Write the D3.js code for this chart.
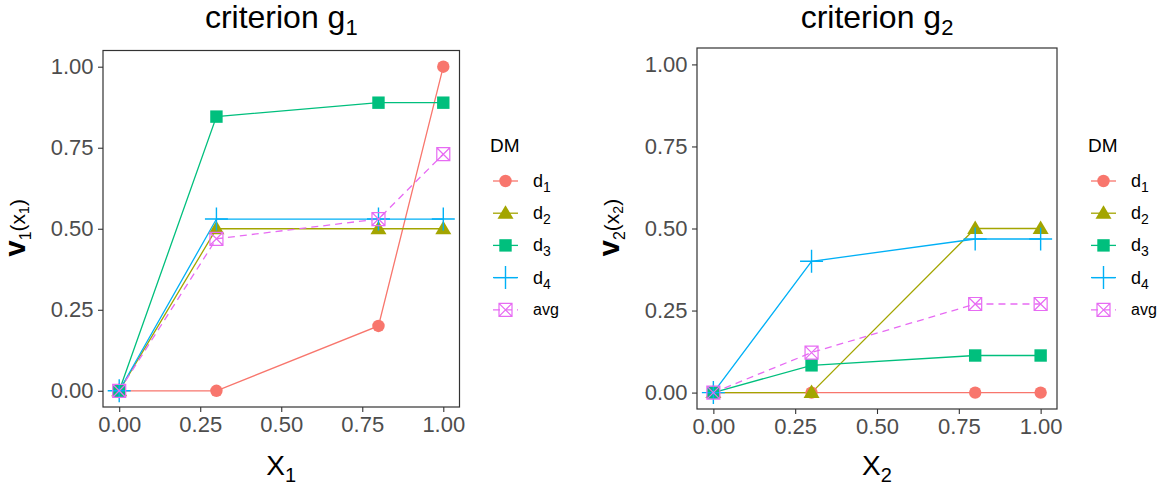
<!DOCTYPE html>
<html>
<head>
<meta charset="utf-8">
<script src="https://cdn.jsdelivr.net/npm/d3@7"></script>
<style>
  body { margin: 0; background: #fff; }
  svg { display: block; }
  text { font-family: "Liberation Sans", Arial, sans-serif; }
</style>
</head>
<body>
<svg id="chart" width="1170" height="494"></svg>
<script>
// x positions shared by both criteria
const xLevels = [0, 0.3, 0.8, 1.0];
const axisTicks = [0, 0.25, 0.5, 0.75, 1];

// decision makers, in legend order
const dmNames = ["d1", "d2", "d3", "d4", "avg"];
const dmColors = ["#F8766D", "#A3A500", "#00BF7D", "#00B0F6", "#E76BF3"];
const dmShapes = ["circle", "triangle", "square", "plus", "boxcross"];

// marginal values, one row per decision maker
const g1Values = [
  [0, 0, 0.2, 1.0],
  [0, 0.5, 0.5, 0.5],
  [0, 0.846, 0.889, 0.889],
  [0, 0.53, 0.53, 0.53],
  [0, 0.469, 0.53, 0.73]
];
const g2Values = [
  [0, 0, 0, 0],
  [0, 0, 0.5, 0.5],
  [0, 0.083, 0.113, 0.113],
  [0, 0.40, 0.468, 0.468],
  [0, 0.122, 0.27, 0.27]
];

const panels = [
  { n: "1", values: g1Values, l: 103, r: 459.5, t: 50.5, b: 407, legendX: 490 },
  { n: "2", values: g2Values, l: 697, r: 1057, t: 48, b: 409, legendX: 1088 }
];

const svg = d3.select("#chart");

function drawMarker(g, shape, color, cx, cy) {
  if (shape === "circle") {
    g.append("circle").attr("cx", cx).attr("cy", cy).attr("r", 6.2).attr("fill", color);
  } else if (shape === "triangle") {
    g.append("path")
      .attr("d", `M${cx},${cy - 8}L${cx + 8},${cy + 5.5}L${cx - 8},${cy + 5.5}Z`)
      .attr("fill", color);
  } else if (shape === "square") {
    g.append("rect").attr("x", cx - 6.2).attr("y", cy - 6.2)
      .attr("width", 12.4).attr("height", 12.4).attr("fill", color);
  } else if (shape === "plus") {
    g.append("path")
      .attr("d", `M${cx - 11.5},${cy}H${cx + 11.5}M${cx},${cy - 11.5}V${cy + 11.5}`)
      .attr("stroke", color).attr("stroke-width", 1.4).attr("fill", "none");
  } else {
    const h = 6.5;
    g.append("path")
      .attr("d", `M${cx - h},${cy - h}H${cx + h}V${cy + h}H${cx - h}Z` +
        `M${cx - h},${cy - h}L${cx + h},${cy + h}M${cx + h},${cy - h}L${cx - h},${cy + h}`)
      .attr("stroke", color).attr("stroke-width", 1.2).attr("fill", "none");
  }
}

function drawPanel(p) {
  const g = svg.append("g");
  const x = d3.scaleLinear().domain([-0.05, 1.05]).range([p.l, p.r]);
  const y = d3.scaleLinear().domain([-0.05, 1.05]).range([p.b, p.t]);
  const cx = (p.l + p.r) / 2;
  const cy = (p.t + p.b) / 2;

  // axes
  const ax = g.append("g").attr("transform", `translate(0,${p.b})`)
    .call(d3.axisBottom(x).tickValues(axisTicks).tickFormat(d3.format(".2f"))
      .tickSize(5).tickPadding(4));
  const ay = g.append("g").attr("transform", `translate(${p.l},0)`)
    .call(d3.axisLeft(y).tickValues(axisTicks).tickFormat(d3.format(".2f"))
      .tickSize(5).tickPadding(4.5));
  [ax, ay].forEach(a => {
    a.select(".domain").remove();
    a.selectAll(".tick line").attr("stroke", "#333").attr("stroke-width", 1.1);
    a.selectAll(".tick text").attr("fill", "#4D4D4D").attr("font-size", 22)
      .attr("font-family", '"Liberation Sans", Arial, sans-serif');
  });

  // lines then points
  const line = d3.line().x(d => x(d[0])).y(d => y(d[1]));
  p.values.forEach((vals, i) => {
    const pts = xLevels.map((xv, k) => [xv, vals[k]]);
    g.append("path").attr("d", line(pts)).attr("fill", "none")
      .attr("stroke", dmColors[i]).attr("stroke-width", 1.3)
      .attr("stroke-dasharray", dmNames[i] === "avg" ? "7,5" : null);
  });
  p.values.forEach((vals, i) => {
    vals.forEach((v, k) => drawMarker(g, dmShapes[i], dmColors[i], x(xLevels[k]), y(v)));
  });

  g.append("rect").attr("x", p.l).attr("y", p.t)
    .attr("width", p.r - p.l).attr("height", p.b - p.t)
    .attr("fill", "none").attr("stroke", "#333").attr("stroke-width", 1.2);

  // title
  const title = g.append("text").attr("x", cx).attr("y", 28)
    .attr("text-anchor", "middle").attr("font-size", 32).attr("fill", "#000");
  title.append("tspan").text("criterion g");
  title.append("tspan").attr("font-size", 22).attr("dy", 7).text(p.n);

  // x axis title
  const xt = g.append("text").attr("x", cx).attr("y", 475)
    .attr("text-anchor", "middle").attr("font-size", 28).attr("fill", "#000");
  xt.append("tspan").text("X");
  xt.append("tspan").attr("font-size", 20).attr("dy", 7).text(p.n);

  // y axis title
  const yt = g.append("text")
    .attr("transform", `translate(${p.l - 78},${cy - 1}) rotate(-90)`)
    .attr("text-anchor", "middle").attr("fill", "#000");
  yt.append("tspan").attr("font-weight", "bold").attr("font-size", 29).text("v");
  yt.append("tspan").attr("font-size", 16).attr("dy", 6).text(p.n);
  yt.append("tspan").attr("font-size", 21).attr("dy", -6).text("(x");
  yt.append("tspan").attr("font-size", 14).attr("dy", 4).text(p.n);
  yt.append("tspan").attr("font-size", 21).attr("dy", -4).text(")");

  // legend
  const lg = g.append("g").attr("transform", `translate(${p.legendX},0)`);
  lg.append("text").attr("x", 0).attr("y", 152).attr("font-size", 19)
    .attr("fill", "#000").text("DM");
  dmNames.forEach((name, i) => {
    const ry = 181 + i * 32.2;
    lg.append("line").attr("x1", 3).attr("x2", 28).attr("y1", ry).attr("y2", ry)
      .attr("stroke", dmColors[i]).attr("stroke-width", 1.3)
      .attr("stroke-dasharray", name === "avg" ? "7,5" : null);
    drawMarker(lg, dmShapes[i], dmColors[i], 15.5, ry);
    const t = lg.append("text").attr("x", 43).attr("y", ry + 6)
      .attr("font-size", 18).attr("fill", "#000");
    if (name === "avg") {
      t.attr("y", ry + 5).attr("font-size", 16).text("avg");
    } else {
      t.append("tspan").text("d");
      t.append("tspan").attr("font-size", 14).attr("dy", 5).text(name.slice(1));
    }
  });
}

panels.forEach(drawPanel);
</script>
</body>
</html>
